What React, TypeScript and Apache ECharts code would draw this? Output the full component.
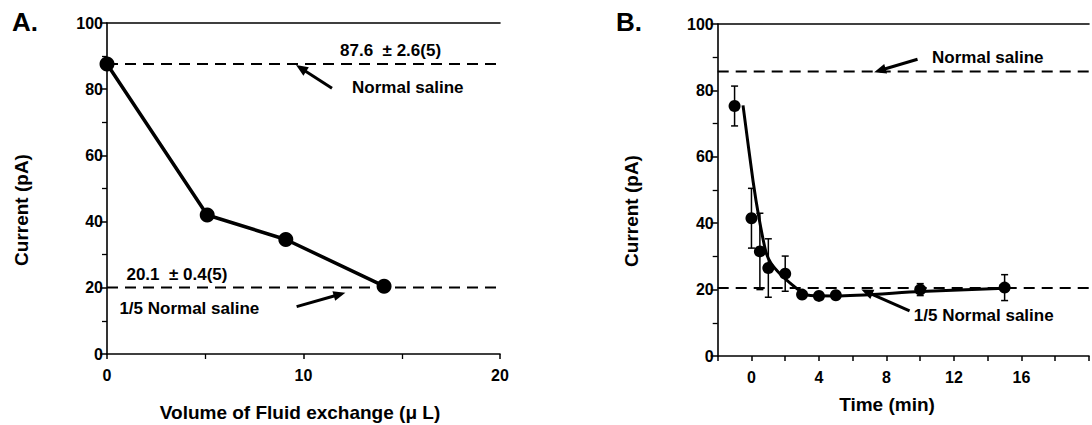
import React, { useEffect, useRef } from "react";
import * as echarts from "echarts";

// ---------- Panel A data ----------
const volumeA = [0, 5.1, 9.1, 14.1];
const currentA = [87.6, 42.0, 34.6, 20.5];
const normalSalineA = 87.6;
const fifthSalineA = 20.1;
const xTicksA = [0, 10, 20];

// ---------- Panel B data ----------
const timeB = [-1, 0, 0.5, 1, 2, 3, 4, 5, 10, 15];
const currentB = [75.3, 41.5, 31.5, 26.5, 24.8, 18.5, 18.1, 18.3, 20.0, 20.6];
const errorB = [6, 9, 11.5, 8.8, 5.3, 0, 0, 0, 1.8, 3.9];
const fitTimeB = [-0.5, 0.1, 0.45, 0.85, 1.15, 1.7, 2.4, 3.1, 3.5, 5, 10, 15];
const fitCurrentB = [75.5, 52.5, 41.5, 31.5, 28, 24.7, 21.5, 18.8, 18.2, 18.1, 19.4, 20.4];
const normalSalineB = 85.7;
const fifthSalineB = 20.5;
const xTicksB = [0, 4, 8, 12, 16];

const yTicks = [0, 20, 40, 60, 80, 100];

// ---------- annotation texts ----------
const meanNormalA = "87.6  \u00b1 2.6(5)";
const meanFifthA = "20.1  \u00b1 0.4(5)";
const labelNormal = "Normal saline";
const labelFifth = "1/5 Normal saline";

const FONT = "'Liberation Sans', Arial, Helvetica, sans-serif";

function xAxisBottom(grid: number, min: number, max: number, interval: number, ticks: number[], minor: boolean) {
  return {
    type: "value",
    gridIndex: grid,
    min,
    max,
    interval,
    position: "bottom",
    axisLine: { show: true, onZero: false, lineStyle: { color: "#000", width: 1.6 } },
    axisTick: { show: true, length: 5, lineStyle: { color: "#000", width: 1.5 } },
    minorTick: { show: minor, splitNumber: 2, length: 5, lineStyle: { color: "#000", width: 1.3 } },
    splitLine: { show: false },
    minorSplitLine: { show: false },
    axisLabel: {
      color: "#000",
      fontSize: 16,
      fontWeight: "bold",
      fontFamily: FONT,
      margin: 13,
      showMaxLabel: true,
      formatter: (v: number) => (ticks.includes(v) ? String(v) : ""),
    },
  };
}

function xAxisTop(grid: number, min: number, max: number) {
  return {
    type: "value",
    gridIndex: grid,
    min,
    max,
    position: "top",
    axisLine: { show: true, onZero: false, lineStyle: { color: "#000", width: 1.6 } },
    axisTick: { show: false },
    axisLabel: { show: false },
    splitLine: { show: false },
  };
}

function yAxis(grid: number) {
  return {
    type: "value",
    gridIndex: grid,
    min: 0,
    max: 100,
    interval: 20,
    axisLine: { show: true, onZero: false, lineStyle: { color: "#000", width: 1.6 } },
    axisTick: { show: true, length: 7, lineStyle: { color: "#000", width: 1.5 } },
    minorTick: { show: true, splitNumber: 2, length: 5, lineStyle: { color: "#000", width: 1.3 } },
    splitLine: { show: false },
    minorSplitLine: { show: false },
    axisLabel: {
      color: "#000",
      fontSize: 16,
      fontWeight: "bold",
      fontFamily: FONT,
      margin: 4,
      formatter: (v: number) => (yTicks.includes(v) ? String(v) : ""),
    },
  };
}

function dashed(xIdx: number, yIdx: number, x0: number, x1: number, y: number) {
  return {
    type: "line",
    xAxisIndex: xIdx,
    yAxisIndex: yIdx,
    data: [
      [x0, y],
      [x1, y],
    ],
    symbol: "none",
    silent: true,
    lineStyle: { color: "#000", width: 2, type: [11, 7] },
    z: 1,
  };
}

export default function App() {
  const ref = useRef<HTMLDivElement>(null);

  useEffect(() => {
    document.body.style.margin = "0";
    if (!ref.current) return;
    const chart = echarts.init(ref.current, null, { renderer: "svg" });

    const option: any = {
      animation: false,
      backgroundColor: "#fff",
      grid: [
        { left: 107, top: 23, width: 393, height: 331 },
        { left: 717.7, top: 24, width: 385, height: 332 },
      ],
      xAxis: [
        xAxisBottom(0, 0, 20, 10, xTicksA, true),
        xAxisTop(0, 0, 20),
        xAxisBottom(1, -2, 20, 2, xTicksB, false),
        xAxisTop(1, -2, 20),
      ],
      yAxis: [yAxis(0), yAxis(1)],
      series: [
        dashed(0, 0, 0, 20, normalSalineA),
        dashed(0, 0, 0, 20, fifthSalineA),
        {
          type: "line",
          xAxisIndex: 0,
          yAxisIndex: 0,
          data: volumeA.map((v, i) => [v, currentA[i]]),
          symbol: "circle",
          symbolSize: 15,
          lineStyle: { color: "#000", width: 3.5 },
          itemStyle: { color: "#000", opacity: 1 },
          z: 3,
        },
        dashed(2, 1, -2, 20, normalSalineB),
        dashed(2, 1, -2, 20, fifthSalineB),
        {
          type: "line",
          xAxisIndex: 2,
          yAxisIndex: 1,
          data: fitTimeB.map((t, i) => [t, fitCurrentB[i]]),
          symbol: "none",
          smooth: 0.25,
          lineStyle: { color: "#000", width: 3 },
          z: 3,
        },
        {
          type: "custom",
          xAxisIndex: 2,
          yAxisIndex: 1,
          data: timeB.map((t, i) => [t, currentB[i], errorB[i]]),
          encode: { x: 0, y: 1 },
          renderItem: (params: any, api: any) => {
            const x = api.value(0);
            const y = api.value(1);
            const e = api.value(2);
            if (!e) return null;
            const top = api.coord([x, y + e]);
            const bot = api.coord([x, y - e]);
            const hw = 3.5;
            const st = { stroke: "#000", lineWidth: 1.5 };
            return {
              type: "group",
              children: [
                { type: "line", shape: { x1: top[0], y1: top[1], x2: bot[0], y2: bot[1] }, style: st },
                { type: "line", shape: { x1: top[0] - hw, y1: top[1], x2: top[0] + hw, y2: top[1] }, style: st },
                { type: "line", shape: { x1: bot[0] - hw, y1: bot[1], x2: bot[0] + hw, y2: bot[1] }, style: st },
              ],
            };
          },
          z: 2,
        },
        {
          type: "scatter",
          xAxisIndex: 2,
          yAxisIndex: 1,
          data: timeB.map((t, i) => [t, currentB[i]]),
          symbol: "circle",
          symbolSize: 12,
          itemStyle: { color: "#000", opacity: 1 },
          z: 4,
        },
      ],
    };
    chart.setOption(option);

    const pA = (x: number, y: number) => chart.convertToPixel({ xAxisIndex: 0, yAxisIndex: 0 }, [x, y]) as number[];
    const pB = (x: number, y: number) => chart.convertToPixel({ xAxisIndex: 2, yAxisIndex: 1 }, [x, y]) as number[];

    const text = (p: number[], str: string, size: number, align = "left", rotation = 0) => ({
      type: "text",
      x: p[0],
      y: p[1],
      rotation,
      style: {
        text: str,
        font: `bold ${size}px ${FONT}`,
        fill: "#000",
        align,
        verticalAlign: "middle",
        textAlign: align,
        textVerticalAlign: "middle",
      },
      z: 10,
    });

    const arrow = (tail: number[], tip: number[]) => {
      const dx = tip[0] - tail[0];
      const dy = tip[1] - tail[1];
      const len = Math.sqrt(dx * dx + dy * dy);
      const ux = dx / len;
      const uy = dy / len;
      const hl = 12;
      const hw = 5;
      const bx = tip[0] - ux * hl;
      const by = tip[1] - uy * hl;
      return [
        {
          type: "line",
          shape: { x1: tail[0], y1: tail[1], x2: bx + ux * 2, y2: by + uy * 2 },
          style: { stroke: "#000", lineWidth: 3 },
          z: 10,
        },
        {
          type: "polygon",
          shape: {
            points: [
              [tip[0], tip[1]],
              [bx - uy * hw, by + ux * hw],
              [bx + uy * hw, by - ux * hw],
            ],
          },
          style: { fill: "#000" },
          z: 10,
        },
      ];
    };

    const graphic: any[] = [
      text([12, 22], "A.", 26),
      text([616, 22], "B.", 26),
      text([21, 210], "Current (pA)", 19, "center", Math.PI / 2),
      text([631, 211], "Current (pA)", 19, "center", Math.PI / 2),
      text([300, 412], "Volume of Fluid exchange (\u03bc L)", 19, "center"),
      text([887, 404], "Time (min)", 19, "center"),
      text(pA(11.86, 91.8), meanNormalA, 17),
      text(pA(12.47, 80.5), labelNormal, 17),
      ...arrow(pA(11.45, 80.3), pA(9.62, 87.3)),
      text(pA(0.99, 23.9), meanFifthA, 17),
      text(pA(0.63, 13.7), labelFifth, 17),
      ...arrow(pA(9.65, 14.3), pA(12.13, 18.5)),
      text(pB(10.7, 89.8), labelNormal, 17),
      ...arrow(pB(9.84, 89.4), pB(7.27, 85.5)),
      text(pB(9.62, 12.3), labelFifth, 17),
      ...arrow(pB(9.37, 13.6), pB(6.51, 20.0)),
    ];
    chart.setOption({ graphic });

    return () => chart.dispose();
  }, []);

  return <div ref={ref} style={{ width: 1092, height: 425 }} />;
}
